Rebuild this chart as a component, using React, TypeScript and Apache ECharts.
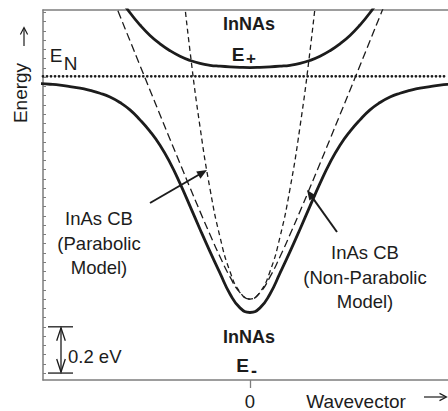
import React, { useEffect, useRef } from "react";
import * as echarts from "echarts";

// Wavevector samples (arbitrary units, 0 = zone centre) and energies in eV,
// measured from the InAs conduction-band edge.
const K_LOWER = [-2.1, -2.0, -1.9, -1.8, -1.7, -1.6, -1.5, -1.4, -1.3, -1.2, -1.1, -1.0, -0.9, -0.8, -0.7, -0.6, -0.5, -0.4, -0.3, -0.2, -0.1, 0, 0.1, 0.2, 0.3, 0.4, 0.5, 0.6, 0.7, 0.8, 0.9, 1.0, 1.1, 1.2, 1.3, 1.4, 1.5, 1.6, 1.7, 1.8, 1.9, 2.0, 2.1];
const E_LOWER = [0.932, 0.929, 0.925, 0.919, 0.912, 0.902, 0.89, 0.874, 0.85, 0.818, 0.775, 0.725, 0.665, 0.59, 0.5, 0.402, 0.302, 0.205, 0.112, 0.022, -0.038, -0.058, -0.038, 0.022, 0.112, 0.205, 0.302, 0.402, 0.5, 0.59, 0.665, 0.725, 0.775, 0.818, 0.85, 0.874, 0.89, 0.902, 0.912, 0.919, 0.925, 0.929, 0.932];

const K_UPPER = [-1.4, -1.3, -1.2, -1.1, -1.0, -0.9, -0.8, -0.7, -0.6, -0.5, -0.4, -0.3, -0.2, -0.1, 0, 0.1, 0.2, 0.3, 0.4, 0.5, 0.6, 0.7, 0.8, 0.9, 1.0, 1.1, 1.2, 1.3, 1.4];
const E_UPPER = [1.37, 1.3, 1.238, 1.185, 1.14, 1.104, 1.074, 1.05, 1.032, 1.019, 1.011, 1.007, 1.004, 1.002, 1.001, 1.002, 1.004, 1.007, 1.011, 1.019, 1.032, 1.05, 1.074, 1.104, 1.14, 1.185, 1.238, 1.3, 1.37];

const K_NONPARABOLIC = [-1.5, -1.4, -1.3, -1.2, -1.1, -1.0, -0.9, -0.8, -0.7, -0.6, -0.5, -0.4, -0.3, -0.2, -0.1, 0, 0.1, 0.2, 0.3, 0.4, 0.5, 0.6, 0.7, 0.8, 0.9, 1.0, 1.1, 1.2, 1.3, 1.4, 1.5];
const E_NONPARABOLIC = [1.4386, 1.3312, 1.224, 1.1169, 1.01, 0.9034, 0.7971, 0.6913, 0.5861, 0.4819, 0.3792, 0.2789, 0.183, 0.0958, 0.0278, 0, 0.0278, 0.0958, 0.183, 0.2789, 0.3792, 0.4819, 0.5861, 0.6913, 0.7971, 0.9034, 1.01, 1.1169, 1.224, 1.3312, 1.4386];

const K_PARABOLIC = [-0.7, -0.6, -0.5, -0.4, -0.3, -0.2, -0.1, 0, 0.1, 0.2, 0.3, 0.4, 0.5, 0.6, 0.7];
const E_PARABOLIC = [1.4602, 1.0728, 0.745, 0.4768, 0.2682, 0.1192, 0.0298, 0, 0.0298, 0.1192, 0.2682, 0.4768, 0.745, 1.0728, 1.4602];

// Localized nitrogen level
const E_N_LEVEL = 0.963;

// Axis extents and tick marks
const K_MIN = -2.07;
const K_MAX = 1.98;
const E_MIN = -0.35;
const E_MAX = 1.25;
const K_TICKS = [0];
const ENERGY_TICKS = [-0.32, -0.28, -0.24, -0.2, -0.16, -0.12, -0.08, -0.04, 0, 0.04, 0.08, 0.12, 0.16, 0.2, 0.24, 0.28, 0.32, 0.36, 0.4, 0.44, 0.48, 0.52, 0.56, 0.6, 0.64, 0.68, 0.72, 0.76, 0.8, 0.84, 0.88, 0.92, 0.96, 1.0, 1.04, 1.08, 1.12, 1.16, 1.2, 1.24];

// Energy scale bar
const SCALE_BAR_EV = 0.2;
const SCALE_BAR_BASE = -0.32;
const SCALE_BAR_K = -1.89;

const FONT = '"Liberation Sans", Arial, Helvetica, sans-serif';
const INK = "#1c1c1c";
const FRAME = "#7d7d7d";

const zip = (ks: number[], es: number[]) => ks.map((k, i) => [k, es[i]]);

function filledArrow(x1: number, y1: number, x2: number, y2: number) {
  const dx = x2 - x1;
  const dy = y2 - y1;
  const len = Math.hypot(dx, dy);
  const ux = dx / len;
  const uy = dy / len;
  const headLen = 10;
  const half = 4.2;
  const bx = x2 - ux * headLen;
  const by = y2 - uy * headLen;
  const nx = -uy;
  const ny = ux;
  return [
    {
      type: "line",
      shape: { x1, y1, x2: bx + ux * 1.5, y2: by + uy * 1.5 },
      style: { stroke: INK, lineWidth: 2 },
      z: 50,
    },
    {
      type: "polygon",
      shape: {
        points: [
          [x2, y2],
          [bx + nx * half, by + ny * half],
          [bx - nx * half, by - ny * half],
        ],
      },
      style: { fill: INK },
      z: 50,
    },
  ];
}

function openHead(x: number, y: number, ux: number, uy: number, len: number, half: number, width: number) {
  const nx = -uy;
  const ny = ux;
  return {
    type: "polyline",
    shape: {
      points: [
        [x - ux * len + nx * half, y - uy * len + ny * half],
        [x, y],
        [x - ux * len - nx * half, y - uy * len - ny * half],
      ],
    },
    style: { stroke: INK, lineWidth: width, fill: null },
    z: 50,
  };
}

function text(x: number, y: number, content: string, size: number, opts: any = {}) {
  return {
    type: "text",
    x,
    y,
    rotation: opts.rotation || 0,
    z: 60,
    style: {
      text: content,
      fontFamily: FONT,
      fontSize: size,
      fontWeight: opts.bold ? "bold" : "normal",
      fill: INK,
      align: opts.align || "center",
      verticalAlign: "middle",
      lineHeight: opts.lineHeight,
    },
  };
}

export default function App() {
  const ref = useRef<HTMLDivElement>(null);

  useEffect(() => {
    if (!ref.current) return;
    const chart = echarts.init(ref.current, undefined, { renderer: "svg" });

    const solid = { color: INK, width: 2.8 };
    const option: any = {
      animation: false,
      backgroundColor: "#ffffff",
      grid: { left: 43, top: 10, right: 0, bottom: 30, containLabel: false },
      xAxis: [
        {
          type: "value",
          min: K_MIN,
          max: K_MAX,
          position: "bottom",
          axisLine: { show: true, onZero: false, lineStyle: { color: FRAME, width: 1.5 } },
          axisTick: { show: true, customValues: K_TICKS, length: 8, inside: false, lineStyle: { color: FRAME, width: 1.3 } },
          axisLabel: { show: true, customValues: K_TICKS, fontSize: 18.5, fontFamily: FONT, color: INK, margin: 12 },
          splitLine: { show: false },
        },
        {
          type: "value",
          min: K_MIN,
          max: K_MAX,
          position: "top",
          axisLine: { show: true, onZero: false, lineStyle: { color: FRAME, width: 1.5 } },
          axisTick: { show: false },
          axisLabel: { show: false },
          splitLine: { show: false },
        },
      ],
      yAxis: {
        type: "value",
        min: E_MIN,
        max: E_MAX,
        axisLine: { show: true, onZero: false, lineStyle: { color: FRAME, width: 1.5 } },
        axisTick: { show: true, customValues: ENERGY_TICKS, inside: true, length: 3, lineStyle: { color: FRAME, width: 1 } },
        axisLabel: { show: false },
        splitLine: { show: false },
      },
      series: [
        {
          name: "InAs CB (Non-Parabolic Model)",
          type: "line",
          data: zip(K_NONPARABOLIC, E_NONPARABOLIC),
          smooth: true,
          showSymbol: false,
          lineStyle: { color: INK, width: 1.3, type: [8, 4] },
          clip: true,
        },
        {
          name: "InAs CB (Parabolic Model)",
          type: "line",
          data: zip(K_PARABOLIC, E_PARABOLIC),
          smooth: true,
          showSymbol: false,
          lineStyle: { color: INK, width: 1.3, type: [5, 3.5] },
          clip: true,
        },
        {
          name: "E-",
          type: "line",
          data: zip(K_LOWER, E_LOWER),
          smooth: true,
          showSymbol: false,
          lineStyle: solid,
          clip: true,
        },
        {
          name: "E+",
          type: "line",
          data: zip(K_UPPER, E_UPPER),
          smooth: true,
          showSymbol: false,
          lineStyle: solid,
          clip: true,
        },
        {
          name: "E_N",
          type: "line",
          data: [
            [K_MIN, E_N_LEVEL],
            [K_MAX, E_N_LEVEL],
          ],
          showSymbol: false,
          lineStyle: { color: INK, width: 2.8, type: [0.01, 4], cap: "round" },
        },
      ],
    };
    chart.setOption(option);

    // Energy scale bar placed through the value axis
    const [sx, sBot] = chart.convertToPixel({ gridIndex: 0 }, [SCALE_BAR_K, SCALE_BAR_BASE]) as number[];
    const [, sTop] = chart.convertToPixel({ gridIndex: 0 }, [SCALE_BAR_K, SCALE_BAR_BASE + SCALE_BAR_EV]) as number[];

    const graphic: any[] = [
      // band labels
      text(249, 24, "InNAs", 18, { bold: true }),
      text(238, 54, "E", 19, { bold: true }),
      text(251, 58.5, "+", 17, { bold: true }),
      text(249, 337, "InNAs", 18, { bold: true }),
      text(242.5, 365, "E", 19, { bold: true }),
      text(254, 371, "-", 18, { bold: true }),
      text(56, 55, "E", 19),
      text(70.5, 63, "N", 19),
      // curve labels
      text(99, 243, "InAs CB\n(Parabolic\nModel)", 18.5, { lineHeight: 24.5 }),
      text(365, 277, "InAs CB\n(Non-Parabolic\nModel)", 18.5, { lineHeight: 24.5 }),
      ...filledArrow(150, 203, 207, 170),
      ...filledArrow(337, 232, 307, 190),
      // axis names
      text(20, 93, "Energy", 19, { rotation: Math.PI / 2 }),
      { type: "line", shape: { x1: 24, y1: 46, x2: 24, y2: 28 }, style: { stroke: INK, lineWidth: 1.2 }, z: 50 },
      openHead(24, 27.5, 0, -1, 7, 3.6, 1.2),
      text(356, 401, "Wavevector", 19),
      { type: "line", shape: { x1: 424, y1: 397, x2: 446, y2: 397 }, style: { stroke: INK, lineWidth: 1.2 }, z: 50 },
      openHead(446.5, 397, 1, 0, 7, 3.6, 1.2),
      // scale bar
      { type: "line", shape: { x1: sx - 13, y1: sTop, x2: sx + 12, y2: sTop }, style: { stroke: INK, lineWidth: 1.3 }, z: 50 },
      { type: "line", shape: { x1: sx - 13, y1: sBot, x2: sx + 12, y2: sBot }, style: { stroke: INK, lineWidth: 1.3 }, z: 50 },
      { type: "line", shape: { x1: sx, y1: sTop + 1, x2: sx, y2: sBot - 1 }, style: { stroke: INK, lineWidth: 1.3 }, z: 50 },
      openHead(sx, sTop + 1, 0, -1, 13, 4.3, 1.3),
      openHead(sx, sBot - 1, 0, 1, 13, 4.3, 1.3),
      text(sx + 7, (sTop + sBot) / 2 + 7, `${SCALE_BAR_EV} eV`, 18.5, { align: "left" }),
    ];
    chart.setOption({ graphic });

    return () => chart.dispose();
  }, []);

  return (
    <div
      ref={ref}
      style={{ position: "fixed", left: 0, top: 0, width: 448, height: 411, background: "#fff" }}
    />
  );
}
